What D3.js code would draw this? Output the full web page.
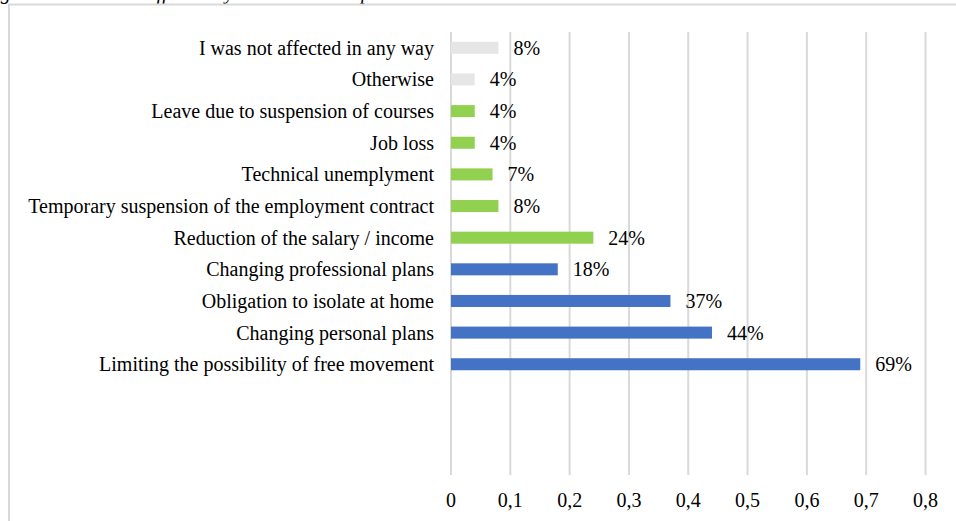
<!DOCTYPE html>
<html>
<head>
<meta charset="utf-8">
<script src="https://cdn.jsdelivr.net/npm/d3@7"></script>
<style>
  html, body { margin: 0; padding: 0; background: #fff; }
  svg { display: block; }
  text { font-family: "Liberation Serif", "Times New Roman", serif; fill: #000; }
</style>
</head>
<body>
<svg id="chart" width="956" height="521"></svg>
<script>
// Ways respondents were affected, top of chart first
const categories = [
  "I was not affected in any way",
  "Otherwise",
  "Leave due to suspension of courses",
  "Job loss",
  "Technical unemplyment",
  "Temporary suspension of the employment contract",
  "Reduction of the salary / income",
  "Changing professional plans",
  "Obligation to isolate at home",
  "Changing personal plans",
  "Limiting the possibility of free movement"
];
const values = [0.08, 0.04, 0.04, 0.04, 0.07, 0.08, 0.24, 0.18, 0.37, 0.44, 0.69];
const groups = ["none", "none", "work", "work", "work", "work", "work", "life", "life", "life", "life"];
const xTicks = [0, 0.1, 0.2, 0.3, 0.4, 0.5, 0.6, 0.7, 0.8];
const emptySlots = 3; // blank category rows kept under the last bar
const titleText = "Figure 7. Situations affected by the COVID-19 pandemic";

const colors = { none: "#e7e6e6", work: "#92d050", life: "#4472c4" };
const fontSize = "20px";

const svg = d3.select("#chart");

// caption line above the chart frame
svg.append("text")
  .attr("x", -17)
  .attr("y", -1.5)
  .style("font-style", "italic")
  .style("font-size", fontSize)
  .text(titleText);

// chart frame
svg.append("rect")
  .attr("x", 9).attr("y", 4.5)
  .attr("width", 1000).attr("height", 600)
  .attr("fill", "none")
  .attr("stroke", "#d9d9d9")
  .attr("stroke-width", 2);

const plot = { left: 451, right: 925.5, top: 32, bottom: 475 };

const x = d3.scaleLinear().domain([0, 0.8]).range([plot.left, plot.right]);

const slots = d3.range(categories.length + emptySlots);
const y = d3.scaleBand()
  .domain(slots)
  .range([plot.top, plot.bottom])
  .paddingInner(0.62)
  .paddingOuter(0.31);

// vertical gridlines
svg.append("g")
  .selectAll("line")
  .data(xTicks)
  .join("line")
  .attr("x1", d => x(d)).attr("x2", d => x(d))
  .attr("y1", plot.top).attr("y2", plot.bottom)
  .attr("stroke", "#d9d9d9")
  .attr("stroke-width", 2);

// value axis labels
const fmt = d => d3.format(".1~f")(d).replace(".", ",");
svg.append("g")
  .selectAll("text")
  .data(xTicks)
  .join("text")
  .attr("x", d => x(d))
  .attr("y", 507)
  .attr("text-anchor", "middle")
  .style("font-size", fontSize)
  .text(fmt);

const rows = categories.map((c, i) => ({ c, v: values[i], g: groups[i], i }));

// bars
svg.append("g")
  .selectAll("rect")
  .data(rows)
  .join("rect")
  .attr("x", x(0))
  .attr("y", d => y(d.i))
  .attr("width", d => x(d.v) - x(0))
  .attr("height", y.bandwidth())
  .attr("fill", d => colors[d.g]);

// category labels
svg.append("g")
  .selectAll("text")
  .data(rows)
  .join("text")
  .attr("x", plot.left - 17)
  .attr("y", d => y(d.i) + y.bandwidth() / 2)
  .attr("dy", "0.35em")
  .attr("text-anchor", "end")
  .style("font-size", fontSize)
  .text(d => d.c);

// value labels
svg.append("g")
  .selectAll("text")
  .data(rows)
  .join("text")
  .attr("x", d => x(d.v) + 15)
  .attr("y", d => y(d.i) + y.bandwidth() / 2)
  .attr("dy", "0.35em")
  .style("font-size", fontSize)
  .text(d => Math.round(d.v * 100) + "%");
</script>
</body>
</html>
